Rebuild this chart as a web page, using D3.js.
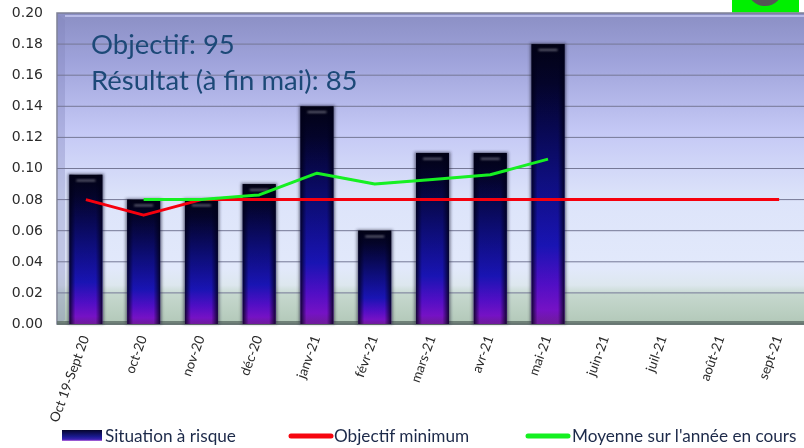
<!DOCTYPE html>
<html>
<head>
<meta charset="utf-8">
<script src="https://cdn.jsdelivr.net/npm/d3@7"></script>
<style>
  html, body { margin: 0; padding: 0; background: #fff; }
  svg { display: block; }
  .ytick text { font-family: "DejaVu Sans", sans-serif; font-size: 14px; fill: #2c2c2c; }
  .xlabel { font-family: Lato, sans-serif; font-size: 13.4px; fill: #2a2a2a; }
  .legend text { font-family: Lato, sans-serif; font-size: 17.2px; fill: #1d2a4a; }
  .note { font-family: Lato, sans-serif; font-size: 27.5px; fill: #1f4a78; }
</style>
</head>
<body>
<svg id="chart"></svg>
<script>
//Chart values
const months = ["Oct 19-Sept 20", "oct-20", "nov-20", "déc-20", "janv-21", "févr-21", "mars-21", "avr-21", "mai-21", "juin-21", "juil-21", "août-21", "sept-21"];
const risque = [0.096, 0.08, 0.08, 0.09, 0.14, 0.06, 0.11, 0.11, 0.18, null, null, null, null];
const objectif = [0.08, 0.07, 0.08, 0.08, 0.08, 0.08, 0.08, 0.08, 0.08, 0.08, 0.08, 0.08, 0.08];
const moyenne = [null, 0.08, 0.08, 0.083, 0.097, 0.09, 0.093, 0.096, 0.106, null, null, null, null];
const yTicks = [0, 0.02, 0.04, 0.06, 0.08, 0.10, 0.12, 0.14, 0.16, 0.18, 0.20];
const noteLines = ["Objectif: 95", "Résultat (à fin mai): 85"];
const legendLabels = ["Situation à risque", "Objectif minimum", "Moyenne sur l'année en cours"];

const w = 804;
const h = 448;
const left = 57;
const right = 808;
const top_ = 13;
const bottom = 324;

const svg = d3.select("#chart").attr("width", w).attr("height", h);
const defs = svg.append("defs");

function gradient(id, stops, horizontal) {
  const g = defs.append("linearGradient").attr("id", id)
    .attr("x1", 0).attr("y1", 0)
    .attr("x2", horizontal ? 1 : 0).attr("y2", horizontal ? 0 : 1);
  stops.forEach(s => {
    g.append("stop").attr("offset", s[0]).attr("stop-color", s[1]).attr("stop-opacity", s[2] === undefined ? 1 : s[2]);
  });
}

gradient("wall", [[0, "#8b8fc4"], [0.15, "#9ea2da"], [0.38, "#c4c8f5"], [0.6, "#dde4fa"], [0.82, "#e2e9fb"], [0.875, "#dde7ee"], [0.905, "#c6d8ce"], [1, "#b2c8b8"]]);
gradient("barFill", [[0, "#020214"], [0.14, "#04042c"], [0.45, "#0e0e80"], [0.72, "#1c16c4"], [0.86, "#5a10d8"], [0.95, "#8214d8"], [1, "#7a1ea8"]]);
gradient("barEdge", [[0, "#000018", 0.85], [0.18, "#000018", 0.1], [0.8, "#000018", 0.1], [1, "#000018", 0.85]], true);
gradient("legendFill", [[0, "#05052c"], [0.6, "#1a1a90"], [0.85, "#3a20b0"], [1, "#c070e0"]]);

const soft = defs.append("filter").attr("id", "soft");
soft.append("feGaussianBlur").attr("stdDeviation", 0.45);
const textSoft = defs.append("filter").attr("id", "textSoft");
textSoft.append("feGaussianBlur").attr("stdDeviation", 0.3);
const dash = defs.append("filter").attr("id", "dash").attr("y", "-100%").attr("height", "300%");
dash.append("feGaussianBlur").attr("stdDeviation", 0.8);
const shadow = defs.append("filter").attr("id", "shadow").attr("x", "-30%").attr("width", "160%");
shadow.append("feGaussianBlur").attr("stdDeviation", 1.4);

defs.append("clipPath").attr("id", "corner").append("rect")
  .attr("x", 732).attr("y", 0).attr("width", 67).attr("height", 12);

//Scales
const x = d3.scaleBand().domain(months).range([left, right]).paddingInner(0.43).paddingOuter(0.215);
const y = d3.scaleLinear().domain([0, 0.2]).range([bottom, top_]);

//Green corner mark above the plot
svg.append("rect").attr("x", 732).attr("y", 0).attr("width", 67).attr("height", 12.5).attr("fill", "#00f000");
svg.append("circle").attr("cx", 765).attr("cy", -12).attr("r", 18)
  .attr("fill", "#555").attr("clip-path", "url(#corner)");

//Wall with its bevel
const wall = svg.append("g");
wall.append("rect").attr("x", left).attr("y", top_).attr("width", w - left + 5).attr("height", bottom - top_)
  .attr("fill", "url(#wall)").attr("stroke", "#7d8095").attr("stroke-width", 1.5);
wall.append("path")
  .attr("d", `M${left + 1},${top_ + 1}L${left + 8},${top_ + 7}L${left + 8},${bottom - 4}L${left + 1},${bottom}Z`)
  .attr("fill", "#8085bb").attr("opacity", 0.35);
wall.append("rect").attr("x", left).attr("y", bottom - 3).attr("width", w - left).attr("height", 4)
  .attr("fill", "#5f7067").attr("opacity", 0.8).attr("filter", "url(#soft)");
wall.append("rect").attr("x", left + 8).attr("y", top_ + 2).attr("width", w - left).attr("height", 2)
  .attr("fill", "#c4c7f0").attr("opacity", 0.8);

//Gridlines
svg.append("g").selectAll("line")
  .data(yTicks.slice(1, -1))
  .enter()
  .append("line")
  .attr("x1", left)
  .attr("x2", w)
  .attr("y1", d => y(d))
  .attr("y2", d => y(d))
  .attr("stroke", "#767896")
  .attr("stroke-width", 1);

//Y axis
const yAxis = d3.axisLeft(y).tickValues(yTicks).tickFormat(d3.format(".2f")).tickSize(0).tickPadding(14);
svg.append("g").attr("class", "ytick")
  .attr("transform", `translate(${left},-1)`)
  .attr("filter", "url(#textSoft)")
  .call(yAxis)
  .call(g => g.select(".domain").remove());

//Bars
const barData = months.map((m, i) => ({ m: m, v: risque[i] })).filter(d => d.v !== null);
const bars = svg.append("g").selectAll("g").data(barData).enter().append("g");
bars.append("rect")
  .attr("x", d => x(d.m) - 1.5)
  .attr("y", d => y(d.v) - 1)
  .attr("width", x.bandwidth() + 3)
  .attr("height", d => bottom - y(d.v) + 1)
  .attr("fill", "#22223c")
  .attr("opacity", 0.6)
  .attr("filter", "url(#shadow)");
bars.append("rect")
  .attr("x", d => x(d.m))
  .attr("y", d => y(d.v))
  .attr("width", x.bandwidth())
  .attr("height", d => bottom - y(d.v))
  .attr("fill", "url(#barFill)");
bars.append("rect")
  .attr("x", d => x(d.m))
  .attr("y", d => y(d.v))
  .attr("width", x.bandwidth())
  .attr("height", d => bottom - y(d.v))
  .attr("fill", "url(#barEdge)");
bars.append("rect")
  .attr("x", d => x(d.m) + 7)
  .attr("y", d => y(d.v) + 5)
  .attr("width", x.bandwidth() - 14)
  .attr("height", 1.6)
  .attr("fill", "#8a8a9a")
  .attr("opacity", 0.85)
  .attr("filter", "url(#dash)");

//Lines
const line = d3.line()
  .defined(d => d.v !== null)
  .x(d => x(d.m) + x.bandwidth() / 2)
  .y(d => y(d.v));

function drawLine(values, color) {
  svg.append("path")
    .datum(months.map((m, i) => ({ m: m, v: values[i] })))
    .attr("d", line)
    .attr("fill", "none")
    .attr("stroke", color)
    .attr("stroke-width", 3)
    .attr("stroke-linejoin", "round")
    .attr("filter", "url(#soft)");
}
drawLine(objectif, "#f6060f");
drawLine(moyenne, "#14f020");

//Objective note
svg.append("g").attr("filter", "url(#textSoft)").selectAll("text")
  .data(noteLines)
  .enter()
  .append("text")
  .attr("class", "note")
  .attr("x", 91)
  .attr("y", (d, i) => 54 + i * 35.5)
  .text(d => d);

//X labels
svg.append("g").attr("filter", "url(#textSoft)").selectAll("text")
  .data(months)
  .enter()
  .append("text")
  .attr("class", "xlabel")
  .attr("text-anchor", "end")
  .attr("transform", d => `translate(${x(d) + x.bandwidth() / 2 - 1},336) rotate(-70)`)
  .attr("dy", "0.35em")
  .text(d => d);

//Legend
const legend = svg.append("g").attr("class", "legend");
legend.append("rect").attr("x", 62).attr("y", 430).attr("width", 40).attr("height", 11).attr("fill", "url(#legendFill)");
legend.append("line").attr("x1", 291).attr("x2", 331).attr("y1", 436).attr("y2", 436)
  .attr("stroke", "#f6060f").attr("stroke-width", 5).attr("stroke-linecap", "round");
legend.append("line").attr("x1", 528).attr("x2", 568).attr("y1", 436).attr("y2", 436)
  .attr("stroke", "#14f020").attr("stroke-width", 5).attr("stroke-linecap", "round");
legend.selectAll("text")
  .data(legendLabels)
  .enter()
  .append("text")
  .attr("x", (d, i) => [105, 334, 572][i])
  .attr("y", 442)
  .attr("filter", "url(#textSoft)")
  .text(d => d);
</script>
</body>
</html>
